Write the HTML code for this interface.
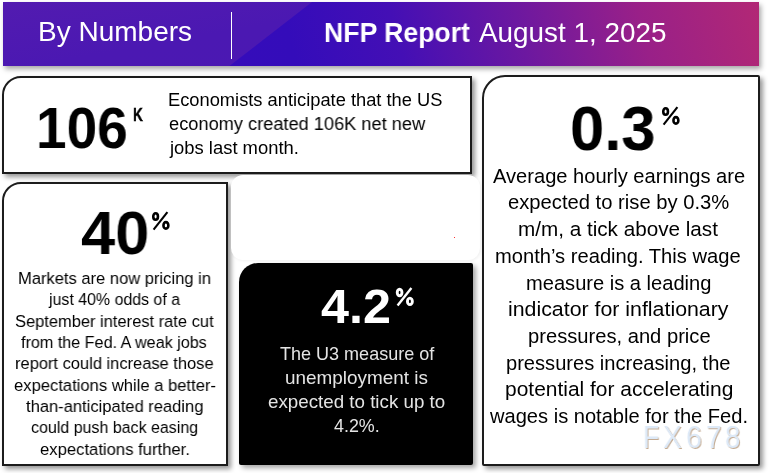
<!DOCTYPE html>
<html><head><meta charset="utf-8">
<style>
html,body{margin:0;padding:0;}
body{width:772px;height:473px;overflow:hidden;background:#fff;position:relative;font-family:"Liberation Sans",sans-serif;}
.t{will-change:transform;position:absolute;white-space:nowrap;line-height:1;transform-origin:0 0;}
.box{position:absolute;box-sizing:border-box;}
.card{border:2px solid #1c1c1c;background:#fff;box-shadow:3px 3px 5px rgba(0,0,0,0.42);}
</style></head><body>
<div class="box" style="left:3px;top:2px;width:756px;height:64.3px;box-shadow:2px 3px 5px rgba(0,0,0,0.35);background:linear-gradient(75deg,#3a0dba 0%,#340cba 38%,#440fb5 52%,#6c18a0 68%,#992088 84%,#b22875 100%);overflow:hidden;">
  <div style="position:absolute;left:0;top:0;width:756px;height:65px;background:linear-gradient(170deg,#521bb0 0%,#4b18b2 35%,#4a18b3 100%);clip-path:polygon(0 0,309px 0,226px 64.3px,0 64.3px);"></div>
  <div style="position:absolute;left:227.5px;top:9.5px;width:1.6px;height:47px;background:#fff;"></div>
</div>
<div class="box card" style="left:1.8px;top:76.3px;width:470.7px;height:97.9px;border-top-left-radius:19px;"></div>
<div class="box card" style="left:1.8px;top:182.1px;width:226px;height:283.8px;border-top-left-radius:19px;"></div>
<div class="box" style="left:231px;top:175px;width:249px;height:85px;border-radius:12px;background:#fff;box-shadow:1px 1px 3px rgba(0,0,0,0.06);"></div>
<div class="box" style="left:239.2px;top:262.8px;width:233.6px;height:202.6px;border-radius:19px 2px 2px 2px;background:#000;box-shadow:3px 3px 5px rgba(0,0,0,0.35);"></div>
<div class="box card" style="left:481.6px;top:75.3px;width:278.1px;height:390.6px;border-radius:23px 2px 2px 2px;"></div>
<div class="t" style="left:38.22px;top:18.00px;font-size:28.00px;color:#fff;transform:scaleX(0.9975);">By Numbers</div>
<div class="t" style="left:324.14px;top:19.00px;font-size:27.70px;color:#fff;font-weight:bold;transform:scaleX(0.9616);">NFP Report</div>
<div class="t" style="left:479.40px;top:19.00px;font-size:27.70px;color:#fff;transform:scaleX(1.0063);">August 1, 2025</div>
<div class="t" style="left:36.17px;top:100.00px;font-size:57.00px;color:#000;font-weight:bold;transform:scaleX(0.9632);">106</div>
<div class="t" style="left:132.75px;top:107.00px;font-size:17.90px;color:#000;font-weight:bold;transform:scaleX(0.7576);-webkit-text-stroke:0.5px #000;">K</div>
<div class="t" style="left:168.27px;top:91.00px;font-size:18.30px;color:#000;">Economists anticipate that the US</div>
<div class="t" style="left:169.13px;top:115.00px;font-size:18.30px;color:#000;transform:scaleX(0.9964);">economy created 106K net new</div>
<div class="t" style="left:170.28px;top:139.00px;font-size:18.30px;color:#000;transform:scaleX(1.0064);">jobs last month.</div>
<div class="t" style="left:81.20px;top:202.00px;font-size:62.00px;color:#000;font-weight:bold;transform:scaleX(0.9902);">40</div>
<div class="t" style="left:18.01px;top:271.00px;font-size:16.75px;color:#000;transform:scaleX(0.9868);">Markets are now pricing in</div>
<div class="t" style="left:48.80px;top:292.00px;font-size:16.75px;color:#000;transform:scaleX(0.9513);">just 40% odds of a</div>
<div class="t" style="left:14.79px;top:314.00px;font-size:16.75px;color:#000;transform:scaleX(0.9828);">September interest rate cut</div>
<div class="t" style="left:20.80px;top:335.00px;font-size:16.75px;color:#000;transform:scaleX(0.9642);">from the Fed. A weak jobs</div>
<div class="t" style="left:14.97px;top:356.00px;font-size:16.75px;color:#000;transform:scaleX(0.9829);">report could increase those</div>
<div class="t" style="left:13.68px;top:378.00px;font-size:16.75px;color:#000;transform:scaleX(0.9908);">expectations while a better-</div>
<div class="t" style="left:26.30px;top:399.00px;font-size:16.75px;color:#000;transform:scaleX(0.9872);">than-anticipated reading</div>
<div class="t" style="left:31.30px;top:420.00px;font-size:16.75px;color:#000;transform:scaleX(0.9545);">could push back easing</div>
<div class="t" style="left:39.68px;top:442.00px;font-size:16.75px;color:#000;transform:scaleX(0.9939);">expectations further.</div>
<div class="t" style="left:569.87px;top:97.00px;font-size:63.40px;color:#000;font-weight:bold;transform:scaleX(0.9719);">0.3</div>
<div class="t" style="left:492.90px;top:166.00px;font-size:20.10px;color:#000;">Average hourly earnings are</div>
<div class="t" style="left:508.27px;top:192.00px;font-size:20.10px;color:#000;transform:scaleX(1.0056);">expected to rise by 0.3%</div>
<div class="t" style="left:518.11px;top:219.00px;font-size:20.10px;color:#000;transform:scaleX(1.0291);">m/m, a tick above last</div>
<div class="t" style="left:495.44px;top:246.00px;font-size:20.10px;color:#000;transform:scaleX(1.0026);">month’s reading. This wage</div>
<div class="t" style="left:526.04px;top:273.00px;font-size:20.10px;color:#000;">measure is a leading</div>
<div class="t" style="left:507.57px;top:299.00px;font-size:20.10px;color:#000;transform:scaleX(1.0613);">indicator for inflationary</div>
<div class="t" style="left:527.54px;top:326.00px;font-size:20.10px;color:#000;transform:scaleX(1.0031);">pressures, and price</div>
<div class="t" style="left:506.24px;top:353.00px;font-size:20.10px;color:#000;">pressures increasing, the</div>
<div class="t" style="left:504.69px;top:379.00px;font-size:20.10px;color:#000;transform:scaleX(1.0429);">potential for accelerating</div>
<div class="t" style="left:490.31px;top:406.00px;font-size:20.10px;color:#000;">wages is notable for the Fed.</div>
<div class="t" style="left:321.10px;top:282.00px;font-size:48.60px;color:#fff;font-weight:bold;transform:scaleX(1.0354);">4.2</div>
<div class="t" style="left:279.72px;top:346.00px;font-size:17.90px;color:#e4e4e4;transform:scaleX(1.0072);">The U3 measure of</div>
<div class="t" style="left:284.52px;top:370.00px;font-size:17.90px;color:#e4e4e4;transform:scaleX(1.0567);">unemployment is</div>
<div class="t" style="left:267.71px;top:394.00px;font-size:17.90px;color:#e4e4e4;transform:scaleX(1.0478);">expected to tick up to</div>
<div class="t" style="left:334.12px;top:418.00px;font-size:17.90px;color:#e4e4e4;transform:scaleX(0.9914);">4.2%.</div>
<div class="t" style="left:643.01px;top:422.00px;font-size:31.40px;color:#dde9f7;transform:scaleX(0.8535);text-shadow:1px 1px 0.3px #c4ab92;">F</div>
<div class="t" style="left:663.46px;top:422.00px;font-size:31.40px;color:#dde9f7;transform:scaleX(0.9048);text-shadow:1px 1px 0.3px #c4ab92;">X</div>
<div class="t" style="left:685.86px;top:422.00px;font-size:31.40px;color:#dde9f7;transform:scaleX(0.9104);text-shadow:1px 1px 0.3px #c4ab92;">6</div>
<div class="t" style="left:705.68px;top:422.00px;font-size:31.40px;color:#dde9f7;transform:scaleX(0.8968);text-shadow:1px 1px 0.3px #c4ab92;">7</div>
<div class="t" style="left:725.43px;top:422.00px;font-size:31.40px;color:#dde9f7;transform:scaleX(0.8876);text-shadow:1px 1px 0.3px #c4ab92;">8</div>
<svg style="position:absolute;left:150.8px;top:211.1px" width="20" height="20" viewBox="-1 -1 20 20"><g fill="none" stroke="#000" stroke-width="2.6"><ellipse cx="3.6" cy="4.5" rx="2.35" ry="3.25"/><ellipse cx="13.9" cy="13.4" rx="2.45" ry="3.25"/></g><path d="M1.6 17.6 L15.4 0.1" stroke="#000" stroke-width="2.1"/></svg>
<svg style="position:absolute;left:660.8px;top:106.2px" width="20" height="20" viewBox="-1 -1 20 20"><g fill="none" stroke="#000" stroke-width="2.6"><ellipse cx="3.6" cy="4.5" rx="2.35" ry="3.25"/><ellipse cx="13.9" cy="13.4" rx="2.45" ry="3.25"/></g><path d="M1.6 17.6 L15.4 0.1" stroke="#000" stroke-width="2.1"/></svg>
<svg style="position:absolute;left:395.3px;top:286.9px" width="20" height="20" viewBox="-1 -1 20 20"><g fill="none" stroke="#fff" stroke-width="2.9"><ellipse cx="3.6" cy="4.5" rx="2.35" ry="3.25"/><ellipse cx="13.9" cy="13.4" rx="2.45" ry="3.25"/></g><path d="M1.6 17.6 L15.4 0.1" stroke="#fff" stroke-width="2.4"/></svg>
<div style="position:absolute;left:454px;top:237px;width:1px;height:1px;background:#f33;"></div>
</body></html>
